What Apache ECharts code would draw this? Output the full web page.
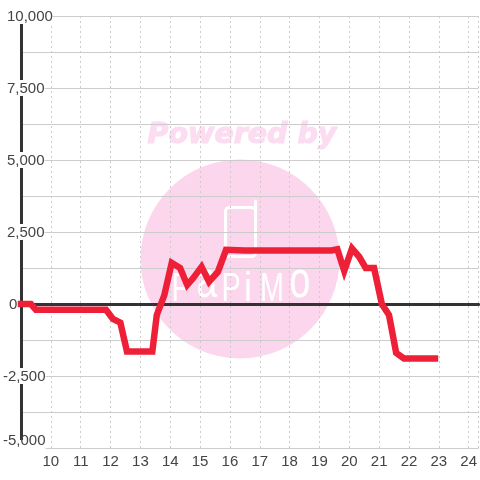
<!DOCTYPE html>
<html>
<head>
<meta charset="utf-8">
<style>html,body{margin:0;padding:0;background:#fff}#c{width:480px;height:480px}</style>
<script src="https://cdn.jsdelivr.net/npm/echarts@6/dist/echarts.min.js"></script>
</head>
<body>
<div id="c"></div>
<script>
const xTickLabels = ['10','11','12','13','14','15','16','17','18','19','20','21','22','23','24'];
const yTickLabels = { '-5000':'-5,000', '-2500':'-2,500', '0':'0', '2500':'2,500', '5000':'5,000', '7500':'7,500', '10000':'10,000' };
const hours = [9,9.33,9.5,11.85,12.08,12.33,12.55,13.4,13.55,13.8,14.05,14.33,14.57,14.77,15.05,15.3,15.6,15.87,16.5,19.4,19.6,19.83,20.09,20.33,20.55,20.83,21.09,21.33,21.57,21.83,22.87];
const values = [0,0,-200,-200,-520,-650,-1650,-1650,-380,300,1430,1250,660,900,1290,770,1120,1880,1860,1860,1900,1150,1930,1640,1250,1250,0,-380,-1700,-1890,-1890];
const logoText = 'PaPiMo';
const pink = '#fbd6ec';
const chart = echarts.init(document.getElementById('c'), null, {renderer:'canvas'});
const splitStyle = {color:'#ccc', width:1};
const dashStyle = {color:'#ccc', width:1, type:[2,3]};
const letterX = [181,207,231,248,272,300];
const letterPx = [40,52,40,40,40,52];
const letterSx = [0.72,0.72,0.72,0.9,0.72,0.72];
const letterY = [290,283,290,290,290,283];
chart.setOption({
  animation:false,
  backgroundColor:'#fff',
  textStyle:{fontFamily:'Liberation Sans'},
  graphic:{elements:[
    {type:'circle', z:-10, shape:{cx:240,cy:259,r:99.5}, style:{fill:pink}},
    {type:'text', z:-10, x:242, y:136, style:{text:'Powered by', fill:'#fcdcf0', stroke:'#fcdcf0', lineWidth:1.2, font:'italic bold 28.5px "DejaVu Sans"', textAlign:'center', textVerticalAlign:'middle'}},
    {type:'rect', z:-10, shape:{x:225.5,y:207.5,width:30,height:49,r:4}, style:{fill:null, stroke:'#fff', lineWidth:3}},
    {type:'polyline', z:-10, shape:{points:[[255.5,212],[255.5,201]]}, style:{fill:null, stroke:'#fff', lineWidth:3, lineCap:'round'}},
    ...logoText.split('').map((ch,i) => ({type:'text', z:-10, x:letterX[i], y:letterY[i], scaleX:letterSx[i], style:{text:ch, fill:'#fff', font:letterPx[i]+'px "Liberation Sans"', textAlign:'center', textVerticalAlign:'middle'}}))
  ]},
  grid:{left:20, right:0, top:16, bottom:32, containLabel:false},
  xAxis:[
    {type:'value', min:9, max:24.3333, interval:1, position:'bottom',
      axisLine:{show:false, onZero:false}, axisTick:{show:false},
      splitLine:{show:true, lineStyle:dashStyle},
      axisLabel:{margin:6, showMaxLabel:false, color:'#444', fontSize:15, fontFamily:'Liberation Sans',
        formatter:v => xTickLabels.includes(String(v)) ? String(v) : ''}},
    {type:'value', min:9, max:24.3333, interval:1, position:'bottom',
      axisLine:{show:true, onZero:true, onZeroAxisIndex:0, lineStyle:{color:'#333', width:3}},
      axisTick:{show:false}, splitLine:{show:false}, axisLabel:{show:false}}
  ],
  yAxis:{type:'value', min:-5000, max:10000, interval:2500, position:'left',
    axisLine:{show:true, onZero:false, lineStyle:{color:'#333', width:3}},
    axisTick:{show:false},
    splitLine:{show:true, lineStyle:splitStyle},
    minorTick:{show:false, splitNumber:2},
    minorSplitLine:{show:true, lineStyle:splitStyle},
    axisLabel:{margin:18, align:'left', color:'#444', fontSize:15, fontFamily:'Liberation Sans', backgroundColor:'#fff', lineHeight:16,
      formatter:v => {
        const t = yTickLabels[String(v)];
        if (v === -5000) return '{m|' + t + '}';
        if (v < 0) return '{t|' + t + '}';
        return (v === 0 ? '{z|}' : '{s|}') + '{t|' + t + '}';
      },
      rich:{
        t:{color:'#444', fontSize:15, lineHeight:16, padding:[2,0,0,0], fontFamily:'Liberation Sans'},
        m:{color:'#444', fontSize:15, lineHeight:16, padding:[0,0,14,0], fontFamily:'Liberation Sans'},
        s:{width:4, lineHeight:16}, z:{width:6, lineHeight:16}
      }
    }
  },
  series:[{
    type:'line', xAxisIndex:0, yAxisIndex:0, symbol:'none', clip:false, z:5,
    data:hours.map((h,i)=>[h,values[i]]),
    lineStyle:{color:'#ee2038', width:6.5, cap:'square', join:'miter'}
  }]
});
</script>
</body>
</html>
